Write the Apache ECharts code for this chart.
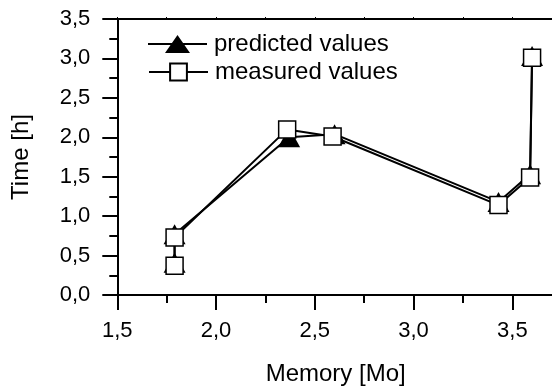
<!DOCTYPE html>
<html><head><meta charset="utf-8">
<script src="https://cdn.jsdelivr.net/npm/echarts@6/dist/echarts.min.js"></script>
<style>html,body{margin:0;padding:0;background:#fff}#c{width:552px;height:387px}</style>
</head><body><div id="c"></div><script>
// ---- data ----
const memoryPredicted = [1.79, 1.79, 2.37, 2.60, 3.43, 3.59, 3.60];
const timePredicted   = [0.41, 0.77, 2.00, 2.04, 1.18, 1.53, 3.03];
const memoryMeasured  = [1.79, 1.79, 2.36, 2.59, 3.43, 3.59, 3.60];
const timeMeasured    = [0.37, 0.73, 2.10, 2.01, 1.14, 1.49, 3.01];
const xTickLabels = ['1,5', '2,0', '2,5', '3,0', '3,5'];
const yTickLabels = ['0,0', '0,5', '1,0', '1,5', '2,0', '2,5', '3,0', '3,5'];
const seriesNames = ['predicted values', 'measured values'];
const xAxisName = 'Memory [Mo]';
const yAxisName = 'Time [h]';

const FONT = "'Liberation Sans', Arial, sans-serif";
const fmt = v => (Math.round(v * 10) / 10).toFixed(1).replace('.', ',');
const xLab = v => { const s = fmt(v); return (Math.abs(v * 2 - Math.round(v * 2)) < 1e-6 && xTickLabels.includes(s)) ? s : ''; };
const yLab = v => { const s = fmt(v); return yTickLabels.includes(s) ? s : ''; };

const pairs = (xs, ys) => xs.map((x, i) => [x, ys[i]]);

const chart = echarts.init(document.getElementById('c'), null, {renderer: 'canvas'});
const axisLine = {show: true, lineStyle: {color: '#000', width: 2}};
chart.setOption({
  animation: false,
  backgroundColor: '#fff',
  grid: {left: 117.3, right: -2, top: 19, bottom: 92, containLabel: false, outerBoundsMode: 'none'},
  legend: [{
    data: [{name: seriesNames[0], icon: 'path://M0,8 H59 V10 H0 Z M29.5,0 L42,18 L17,18 Z'}],
    left: 143, top: 27, itemWidth: 59, itemHeight: 18, itemGap: 0,
    textStyle: {fontFamily: FONT, fontSize: 24, color: '#000', padding: [0, 0, 0, 2]},
    selectedMode: false
  }, {
    data: [seriesNames[1]],
    left: 143, top: 55, itemWidth: 59, itemHeight: 21, itemGap: 0,
    textStyle: {fontFamily: FONT, fontSize: 24, color: '#000', padding: [0, 0, 0, 2]},
    selectedMode: false
  }],
  xAxis: [{
    type: 'value', position: 'bottom', min: 1.5, max: 3.711, interval: 0.5,
    axisLine: axisLine,
    axisTick: {show: true, length: 15, inside: false, lineStyle: {color: '#000', width: 2}},
    axisLabel: {formatter: xLab, margin: 25, fontFamily: FONT, fontSize: 22, color: '#000'},
    splitLine: {show: false},
    name: xAxisName, nameLocation: 'middle', nameGap: 67,
    nameTextStyle: {fontFamily: FONT, fontSize: 24, color: '#000'}
  }, {
    type: 'value', position: 'bottom', min: 1.5, max: 3.711, interval: 0.25,
    axisLine: {show: false},
    axisTick: {show: true, length: 8, inside: false, lineStyle: {color: '#000', width: 2}},
    axisLabel: {show: false}, splitLine: {show: false}
  }, {
    type: 'value', position: 'top', min: 1.5, max: 3.711, interval: 0.25,
    axisLine: axisLine,
    axisTick: {show: true, length: 2, inside: false, lineStyle: {color: '#000', width: 1}},
    axisLabel: {show: false}, splitLine: {show: false}
  }],
  yAxis: [{
    type: 'value', position: 'left', min: 0, max: 3.5, interval: 0.5,
    axisLine: axisLine,
    axisTick: {show: true, length: 15, inside: false, lineStyle: {color: '#000', width: 2}},
    minorTick: {show: true, splitNumber: 2, length: 8, lineStyle: {color: '#000', width: 2}},
    axisLabel: {formatter: yLab, margin: 27, fontFamily: FONT, fontSize: 22, color: '#000'},
    splitLine: {show: false},
    name: yAxisName, nameLocation: 'middle', nameGap: 84, nameRotate: 90,
    nameTextStyle: {fontFamily: FONT, fontSize: 24, color: '#000'}
  }],
  series: [{
    name: seriesNames[0], type: 'line', xAxisIndex: 0, yAxisIndex: 0,
    data: pairs(memoryPredicted, timePredicted),
    symbol: 'triangle', symbolSize: [22, 20], showAllSymbol: true,
    lineStyle: {color: '#000', width: 2},
    itemStyle: {color: '#000', borderColor: '#000', borderWidth: 0},
    emphasis: {disabled: true}
  }, {
    name: seriesNames[1], type: 'line', xAxisIndex: 0, yAxisIndex: 0,
    data: pairs(memoryMeasured, timeMeasured),
    symbol: 'rect', symbolSize: 17, showAllSymbol: true,
    lineStyle: {color: '#000', width: 2},
    itemStyle: {color: '#fff', borderColor: '#000', borderWidth: 1.5},
    emphasis: {disabled: true}
  }]
});
</script></body></html>
